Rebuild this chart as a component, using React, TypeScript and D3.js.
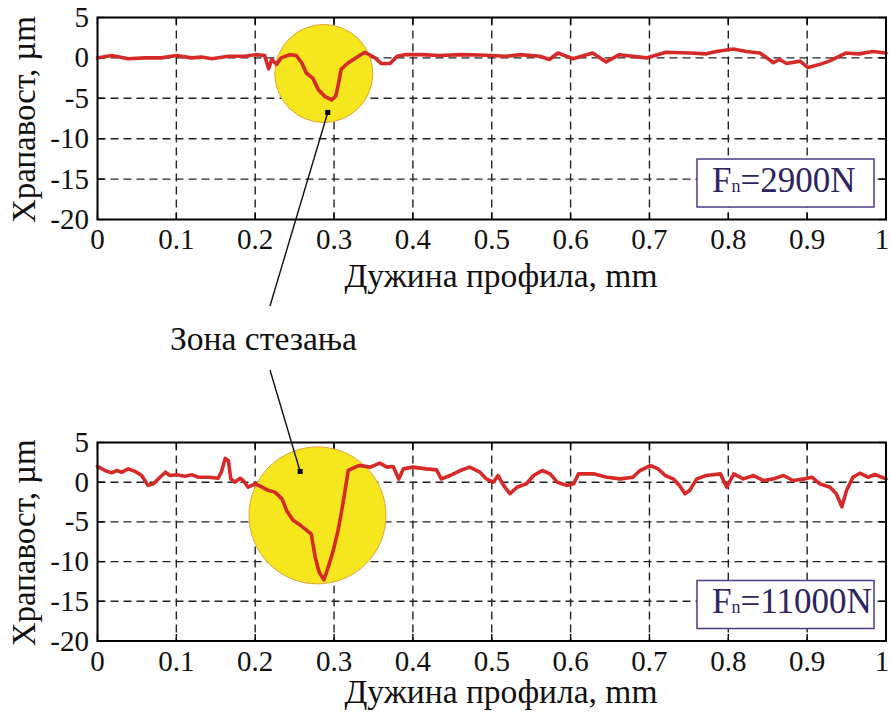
import React from "react";
import * as d3 from "d3";

// ---- data ----
const xTicks = [0, 0.1, 0.2, 0.3, 0.4, 0.5, 0.6, 0.7, 0.8, 0.9, 1];
const xTickLabels = ["0", "0.1", "0.2", "0.3", "0.4", "0.5", "0.6", "0.7", "0.8", "0.9", "1"];
const yTicks = [5, 0, -5, -10, -15, -20];
const yTickLabels = ["5", "0", "-5", "-10", "-15", "-20"];

const topX = [0, 0.018, 0.039, 0.06, 0.081, 0.1, 0.119, 0.132, 0.145, 0.166, 0.187, 0.2, 0.212, 0.217, 0.221, 0.227, 0.233, 0.244, 0.252, 0.259, 0.265, 0.273, 0.28, 0.288, 0.297, 0.302, 0.305, 0.309, 0.318, 0.331, 0.339, 0.352, 0.36, 0.371, 0.38, 0.39, 0.411, 0.433, 0.462, 0.485, 0.519, 0.535, 0.561, 0.573, 0.584, 0.603, 0.628, 0.645, 0.662, 0.696, 0.721, 0.751, 0.772, 0.785, 0.806, 0.823, 0.84, 0.852, 0.857, 0.865, 0.874, 0.891, 0.901, 0.916, 0.928, 0.949, 0.966, 0.983, 1.0];
const topY = [0, 0.3, -0.1, 0.0, 0.0, 0.3, 0.0, 0.1, -0.1, 0.2, 0.2, 0.4, 0.3, -1.35, -0.2, -0.8, 0.0, 0.4, 0.3, -0.6, -1.9, -2.5, -3.9, -4.75, -5.2, -4.75, -3.5, -1.4, -0.6, 0.2, 0.7, 0.0, -0.7, -0.7, 0.2, 0.4, 0.4, 0.3, 0.4, 0.35, 0.2, 0.4, 0.2, -0.2, 0.6, -0.1, 0.6, -0.5, 0.4, 0.0, 0.7, 0.6, 0.5, 0.8, 1.1, 0.8, 0.6, -0.2, -0.6, -0.2, -0.7, -0.4, -1.2, -0.8, -0.4, 0.6, 0.5, 0.8, 0.6];

const botX = [0, 0.0095, 0.018, 0.024, 0.031, 0.039, 0.048, 0.056, 0.064, 0.071, 0.079, 0.086, 0.092, 0.1, 0.111, 0.12, 0.128, 0.141, 0.153, 0.157, 0.162, 0.166, 0.169, 0.174, 0.181, 0.185, 0.191, 0.2, 0.208, 0.217, 0.225, 0.234, 0.24, 0.248, 0.257, 0.271, 0.276, 0.281, 0.287, 0.292, 0.299, 0.305, 0.309, 0.314, 0.318, 0.329, 0.333, 0.346, 0.358, 0.367, 0.375, 0.382, 0.388, 0.4, 0.417, 0.43, 0.436, 0.447, 0.46, 0.472, 0.485, 0.493, 0.502, 0.508, 0.515, 0.523, 0.532, 0.544, 0.553, 0.564, 0.574, 0.583, 0.595, 0.604, 0.61, 0.629, 0.646, 0.663, 0.679, 0.688, 0.701, 0.711, 0.72, 0.73, 0.738, 0.745, 0.751, 0.76, 0.772, 0.79, 0.798, 0.807, 0.819, 0.832, 0.845, 0.857, 0.87, 0.882, 0.897, 0.906, 0.916, 0.929, 0.937, 0.944, 0.95, 0.958, 0.967, 0.977, 0.986, 1.0];
const botY = [2.0, 1.47, 1.18, 1.47, 1.26, 1.68, 1.35, 0.84, -0.4, -0.2, 0.6, 1.26, 0.84, 0.93, 0.76, 0.93, 0.63, 0.63, 0.5, 1.26, 3.0, 2.7, 0.42, 0.0, 0.5, 0.2, -0.63, -0.2, -0.6, -1.05, -1.25, -2.1, -3.6, -4.8, -5.4, -6.5, -9.4, -11.3, -12.3, -10.9, -8.6, -6.1, -4.0, -1.05, 1.5, 2.0, 2.1, 1.9, 2.4, 1.9, 1.97, 0.4, 1.68, 1.9, 1.68, 1.55, 0.4, 0.84, 1.47, 1.9, 1.26, 0.42, 0.0, 0.84, -0.4, -1.46, -0.63, -0.2, 0.84, 1.47, 1.05, 0.0, -0.4, -0.2, 1.05, 1.05, 0.63, 0.42, 0.63, 1.47, 2.1, 1.68, 0.84, 0.42, -0.4, -1.46, -1.05, 0.42, 0.84, 1.05, -0.63, 1.05, 0.42, 0.84, 0.21, 0.42, 0.84, 0.21, 0.42, 0.63, -0.2, -0.63, -1.46, -3.1, -1.05, 0.63, 1.13, 0.63, 0.97, 0.42];

const panelLegends = ["2900N", "11000N"];
const xLabel = "Дужина профила, mm";
const yLabel = "Храпавост, µm";
const annotationText = "Зона стезања";

// highlight zones (data coords) and marker points
const zoneCx = [0.287, 0.279];
const zoneCy = [-1.93, -4.18];
const markerX = [0.292, 0.257];
const markerY = [-6.75, 1.35];

const FONT = '"Liberation Serif"';

type PanelProps = {
  top: number;
  bottom: number;
  xs: number[];
  ys: number[];
  legend: string;
  zoneIdx: number;
  zoneR: number;
  legendTop: number;
  tickBase: number;
  labelBase: number;
};

const LEFT = 97.5;
const RIGHT = 886;
const fs = { fontFamily: FONT };

function Panel(p: PanelProps) {
  const x = d3.scaleLinear().domain([0, 1]).range([LEFT, RIGHT]);
  const y = d3.scaleLinear().domain([-20, 5]).range([p.bottom, p.top]);
  const line = d3
    .line<number>()
    .x((_, i) => x(p.xs[i]))
    .y((v) => y(v))
    .curve(d3.curveLinear);
  const gridX = xTicks.filter((t) => t > 0 && t < 1);
  const gridY = yTicks.filter((t) => t > -20 && t < 5);
  const tickLen = 7;
  return (
    <g>
      <rect x={LEFT} y={p.top} width={RIGHT - LEFT} height={p.bottom - p.top} fill="#fff" />
      {gridX.map((t) => (
        <line key={"gx" + t} x1={x(t)} x2={x(t)} y1={p.top} y2={p.bottom} stroke="#222" strokeWidth={1.4} strokeDasharray="8,5" />
      ))}
      {gridY.map((t) => (
        <line key={"gy" + t} x1={LEFT} x2={RIGHT} y1={y(t)} y2={y(t)} stroke="#222" strokeWidth={1.4} strokeDasharray="8,5" />
      ))}
      {xTicks.map((t) => (
        <g key={"tx" + t}>
          <line x1={x(t)} x2={x(t)} y1={p.bottom} y2={p.bottom - tickLen} stroke="#000" strokeWidth={1.4} />
          <line x1={x(t)} x2={x(t)} y1={p.top} y2={p.top + tickLen} stroke="#000" strokeWidth={1.4} />
        </g>
      ))}
      {yTicks.map((t) => (
        <g key={"ty" + t}>
          <line x1={LEFT} x2={LEFT + tickLen} y1={y(t)} y2={y(t)} stroke="#000" strokeWidth={1.4} />
          <line x1={RIGHT} x2={RIGHT - tickLen} y1={y(t)} y2={y(t)} stroke="#000" strokeWidth={1.4} />
        </g>
      ))}
      <circle
        cx={x(zoneCx[p.zoneIdx])}
        cy={y(zoneCy[p.zoneIdx])}
        r={p.zoneR}
        fill="#f5e61e"
        stroke="#e2a33a"
        strokeWidth={1}
      />
      <path d={line(p.ys) || ""} fill="none" stroke="#d62a28" strokeWidth={3.6} strokeLinejoin="round" strokeLinecap="round" />
      <rect
        x={x(markerX[p.zoneIdx]) - 2.5}
        y={y(markerY[p.zoneIdx]) - 2.5}
        width={5}
        height={5}
        fill="#000"
      />
      <rect x={697} y={p.legendTop} width={177} height={48} fill="#fff" stroke="#4a3c86" strokeWidth={1.5} />
      <text x={712} y={p.legendTop + 32.5} style={fs} fontSize={35} fill="#2c2560">
        F<tspan fontSize={18}>n</tspan>={p.legend}
      </text>
      <rect x={LEFT} y={p.top} width={RIGHT - LEFT} height={p.bottom - p.top} fill="none" stroke="#000" strokeWidth={2} />
      {xTicks.map((t, i) => (
        <text key={"xl" + t} x={Math.min(x(t), 882)} y={p.tickBase} textAnchor="middle" style={fs} fontSize={29} fill="#111">
          {xTickLabels[i]}
        </text>
      ))}
      {yTicks.map((t, i) => (
        <text key={"yl" + t} x={89} y={y(t) + 9.5} textAnchor="end" style={fs} fontSize={29} fill="#111">
          {yTickLabels[i]}
        </text>
      ))}
      <text x={501} y={p.labelBase} textAnchor="middle" style={fs} fontSize={33} fill="#111" textLength={313} lengthAdjust="spacingAndGlyphs">
        {xLabel}
      </text>
      <text
        transform={`translate(35,${(p.top + p.bottom) / 2 + 1}) rotate(-90)`}
        textAnchor="middle"
        style={fs}
        fontSize={33}
        fill="#111"
        textLength={207}
        lengthAdjust="spacingAndGlyphs"
      >
        {yLabel}
      </text>
    </g>
  );
}

export default function App() {
  const xTop = d3.scaleLinear().domain([0, 1]).range([LEFT, RIGHT]);
  const yTop = d3.scaleLinear().domain([-20, 5]).range([219.5, 17.5]);
  const yBot = d3.scaleLinear().domain([-20, 5]).range([641, 442.5]);
  return (
    <svg width={891} height={716} style={{ position: "absolute", left: 0, top: 0, background: "#fff" }}>
      <rect x={0} y={0} width={891} height={716} fill="#fff" />
      <Panel top={17.5} bottom={219.5} xs={topX} ys={topY} legend={panelLegends[0]} zoneIdx={0} zoneR={49} legendTop={159} tickBase={249} labelBase={286.5} />
      <Panel top={442.5} bottom={641} xs={botX} ys={botY} legend={panelLegends[1]} zoneIdx={1} zoneR={68.5} legendTop={580.5} tickBase={671} labelBase={703} />
      <line x1={xTop(markerX[0])} y1={yTop(markerY[0])} x2={270} y2={306} stroke="#111" strokeWidth={1.4} />
      <line x1={270} y1={370} x2={xTop(markerX[1])} y2={yBot(markerY[1])} stroke="#111" strokeWidth={1.4} />
      <text x={170} y={350} style={fs} fontSize={33} fill="#111" textLength={187} lengthAdjust="spacingAndGlyphs">
        {annotationText}
      </text>
    </svg>
  );
}
